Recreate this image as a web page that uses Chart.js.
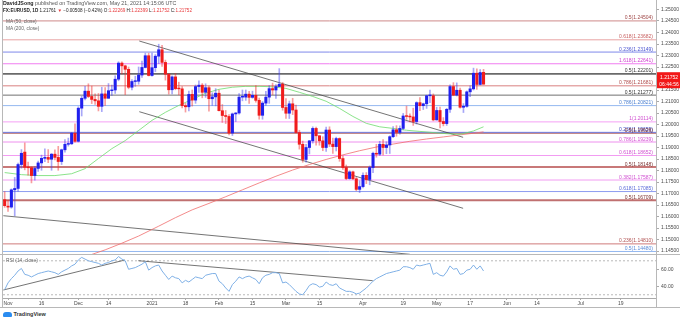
<!DOCTYPE html>
<html>
<head>
<meta charset="utf-8">
<script src="https://cdn.jsdelivr.net/npm/chart.js@4.4.0/dist/chart.umd.min.js"></script>
<style>
  body { margin:0; width:680px; height:322px; background:#fff; position:relative; overflow:hidden;
         font-family:"Liberation Sans", Arial, sans-serif; }
  canvas { position:absolute; left:0; }
  .txt { position:absolute; white-space:nowrap; z-index:5; line-height:1; }
  .r { color:#e8393b; }
  .ln { position:absolute; background:#b8b8b8; z-index:4; }
</style>
</head>
<body>
<canvas id="price" width="680" height="254" style="top:0"></canvas>
<canvas id="rsi" width="680" height="53" style="top:254px"></canvas>

<div class="txt" style="left:3px;top:1px;font-size:5.3px;color:#555"><b style="color:#222">DavidJSong</b> published on TradingView.com, May 21, 2021 14:15:06 UTC</div>
<div class="txt" style="left:3px;top:9px;font-size:4.6px;color:#222"><b>FX:EURUSD, 1D</b> 1.21761 <span class="r">▼</span> −0.00508 (−0.42%) O:<span class="r">1.22269</span> H:<span class="r">1.22399</span> L:<span class="r">1.21752</span> C:<span class="r">1.21752</span></div>
<div class="txt" style="left:6px;top:20px;font-size:4.8px;color:#666">MA (50, close)</div>
<div class="txt" style="left:6px;top:27px;font-size:4.8px;color:#666">MA (200, close)</div>
<div class="txt" style="left:6px;top:259px;font-size:4.8px;color:#666">RSI (14, close)</div>

<div class="ln" style="left:0;top:254px;width:680px;height:1px"></div>
<div class="ln" style="left:0;top:307px;width:680px;height:1px"></div>
<div class="ln" style="left:656px;top:0;width:1px;height:308px"></div>
<div class="ln" style="left:2px;top:0;width:1px;height:308px"></div>

<div class="txt" style="left:3px;top:312px;font-size:5.5px;color:#333">
  <span style="display:inline-block;width:9px;height:5px;background:#2a8cf0;border-radius:3px 3px 1px 1px;vertical-align:-1px"></span>
  <b>TradingView</b></div>

<script>
// daily candles, Oct 30 2020 -> May 21 2021
const opens = [1.1673,1.1645,1.1641,1.1716,1.1722,1.1826,1.1880,1.1814,1.1812,1.1778,
  1.1809,1.1833,1.1853,1.1857,1.1849,1.1871,1.1857,1.1839,1.1890,1.1914,
  1.1916,1.1962,1.1927,1.2071,1.2114,1.2145,1.2122,1.2109,1.2103,1.2079,
  1.2133,1.2114,1.2147,1.2150,1.2197,1.2267,1.2255,1.2240,1.2162,1.2187,
  1.2188,1.2215,1.2248,1.2299,1.2213,1.2247,1.2297,1.2325,1.2270,1.2219,
  1.2151,1.2207,1.2156,1.2155,1.2082,1.2077,1.2131,1.2106,1.2165,1.2171,
  1.2140,1.2160,1.2112,1.2120,1.2136,1.2060,1.2039,1.2035,1.1963,1.2046,
  1.2050,1.2119,1.2119,1.2132,1.2118,1.2127,1.2105,1.2040,1.2093,1.2119,
  1.2156,1.2150,1.2165,1.2175,1.2074,1.2049,1.2090,1.2063,1.1965,1.1914,
  1.1848,1.1900,1.1929,1.1983,1.1951,1.1929,1.1900,1.1976,1.1915,1.1904,
  1.1939,1.1852,1.1813,1.1765,1.1794,1.1764,1.1718,1.1730,1.1779,1.1761,
  1.1813,1.1875,1.1871,1.1914,1.1900,1.1911,1.1947,1.1977,1.1966,1.1983,
  1.2037,1.2035,1.2033,1.2013,1.2095,1.2082,1.2090,1.2125,1.2125,1.2020,
  1.2061,1.2013,1.2004,1.2066,1.2165,1.2128,1.2149,1.2075,1.2079,1.2142,
  1.2155,1.2223,1.2174,1.22269];
const highs = [1.1708,1.1670,1.1720,1.1770,1.1832,1.1891,1.1920,1.1837,1.1816,1.1817,
  1.1841,1.1867,1.1894,1.1891,1.1874,1.1890,1.1905,1.1893,1.1935,1.1941,
  1.1966,1.2003,1.2077,1.2123,1.2166,1.2177,1.2167,1.2133,1.2135,1.2162,
  1.2160,1.2178,1.2171,1.2212,1.2273,1.2272,1.2258,1.2250,1.2195,1.2210,
  1.2250,1.2276,1.2310,1.2310,1.2310,1.2304,1.2349,1.2344,1.2280,1.2220,
  1.2212,1.2222,1.2184,1.2165,1.2092,1.2145,1.2150,1.2172,1.2190,1.2178,
  1.2177,1.2167,1.2138,1.2156,1.2150,1.2087,1.2061,1.2043,1.2050,1.2052,
  1.2134,1.2150,1.2150,1.2144,1.2145,1.2169,1.2115,1.2100,1.2144,1.2169,
  1.2180,1.2174,1.2243,1.2183,1.2113,1.2102,1.2114,1.2084,1.1975,1.1928,
  1.1914,1.1931,1.1990,1.1989,1.1952,1.1947,1.1989,1.1990,1.1941,1.1945,
  1.1942,1.1864,1.1824,1.1799,1.1798,1.1770,1.1755,1.1790,1.1791,1.1820,
  1.1880,1.1914,1.1927,1.1934,1.1925,1.1951,1.1991,1.1995,1.1994,1.2048,
  1.2080,1.2046,1.2071,1.2099,1.2117,1.2093,1.2128,1.2150,1.2133,1.2075,
  1.2076,1.2030,1.2070,1.2173,1.2182,1.2181,1.2158,1.2091,1.2146,1.2168,
  1.2245,1.2242,1.2239,1.22399];
const lows = [1.1640,1.1622,1.1636,1.1603,1.1710,1.1810,1.1803,1.1780,1.1746,1.1758,
  1.1796,1.1801,1.1838,1.1834,1.1801,1.1846,1.1801,1.1826,1.1880,1.1906,
  1.1913,1.1923,1.1924,1.2037,1.2107,1.2117,1.2091,1.2087,1.2059,1.2056,
  1.2083,1.2114,1.2126,1.2135,1.2190,1.2220,1.2130,1.2155,1.2150,1.2166,
  1.2175,1.2205,1.2246,1.2211,1.2210,1.2230,1.2265,1.2253,1.2193,1.2132,
  1.2133,1.2151,1.2129,1.2072,1.2054,1.2059,1.2080,1.2092,1.2140,1.2116,
  1.2118,1.2058,1.2083,1.2081,1.2059,1.2009,1.2004,1.1955,1.1952,1.2013,
  1.2045,1.2103,1.2105,1.2092,1.2114,1.2097,1.2023,1.2023,1.2083,1.2092,
  1.2130,1.2113,1.2165,1.2062,1.2026,1.2026,1.2043,1.1963,1.1893,1.1836,
  1.1836,1.1872,1.1919,1.1910,1.1910,1.1886,1.1883,1.1904,1.1874,1.1885,
  1.1840,1.1805,1.1760,1.1762,1.1760,1.1712,1.1704,1.1724,1.1743,1.1738,
  1.1791,1.1858,1.1865,1.1868,1.1873,1.1874,1.1943,1.1949,1.1958,1.1977,
  1.2022,1.2011,1.1996,1.2002,1.2060,1.2065,1.2070,1.2095,1.2016,1.2019,
  1.1985,1.1994,1.1996,1.2052,1.2125,1.2124,1.2071,1.2052,1.2075,1.2121,
  1.2150,1.2152,1.2172,1.21752];
const closes = [1.1647,1.1641,1.1716,1.1722,1.1826,1.1875,1.1814,1.1812,1.1778,1.1809,
  1.1833,1.1853,1.1857,1.1849,1.1871,1.1857,1.1839,1.1890,1.1914,1.1916,
  1.1962,1.1927,1.2071,1.2114,1.2145,1.2122,1.2109,1.2103,1.2079,1.2133,
  1.2114,1.2147,1.2150,1.2197,1.2267,1.2255,1.2240,1.2162,1.2187,1.2188,
  1.2215,1.2248,1.2299,1.2213,1.2247,1.2297,1.2325,1.2270,1.2219,1.2151,
  1.2207,1.2156,1.2155,1.2082,1.2077,1.2131,1.2106,1.2165,1.2171,1.2140,
  1.2160,1.2112,1.2120,1.2136,1.2060,1.2039,1.2035,1.1963,1.2046,1.2050,
  1.2119,1.2119,1.2132,1.2118,1.2127,1.2105,1.2040,1.2093,1.2119,1.2156,
  1.2150,1.2165,1.2175,1.2074,1.2049,1.2090,1.2063,1.1965,1.1914,1.1848,
  1.1900,1.1929,1.1983,1.1951,1.1929,1.1900,1.1976,1.1915,1.1904,1.1939,
  1.1852,1.1813,1.1765,1.1794,1.1764,1.1718,1.1730,1.1779,1.1761,1.1813,
  1.1875,1.1871,1.1914,1.1900,1.1911,1.1947,1.1977,1.1966,1.1983,1.2037,
  1.2035,1.2033,1.2013,1.2095,1.2082,1.2090,1.2125,1.2125,1.2020,1.2061,
  1.2013,1.2004,1.2066,1.2165,1.2128,1.2149,1.2075,1.2079,1.2142,1.2155,
  1.2223,1.2174,1.2226,1.21752];

// RSI(14) per bar
const rsi = [36,44,49,53,58,61,54,53,51,53,
  55,56,57,58,57,56,54,57,59,61,
  64,66,71,74,72,70,69,68,67,65,
  67,68,70,71,75,72,70,60,61,62,
  64,66,69,59,62,64,65,58,53,48,
  52,50,49,44,47,45,48,51,50,49,
  53,54,55,55,46,43,38,34,42,46,
  51,49,51,52,50,48,43,50,53,54,
  56,56,55,44,45,42,38,34,31,30,
  35,41,43,42,39,40,45,42,41,43,
  38,36,34,34,33,31,32,35,38,42,
  46,49,51,53,55,56,57,58,59,63,
  63,62,60,65,64,65,66,67,54,56,
  53,52,57,64,60,61,54,55,59,60,
  65,60,64,58];

// moving averages, [bar, value]
const ma50 = [[0,1.1791],[5,1.1782],[10,1.1778],[15,1.1778],[20,1.1786],[24,1.1808],[28,1.1852],
  [32,1.1895],[36,1.1930],[40,1.1974],[44,1.2018],[48,1.2053],[52,1.2083],[56,1.2109],[60,1.2136],
  [64,1.2153],[68,1.2162],[72,1.2166],[76,1.2166],[80,1.2164],[84,1.2157],[88,1.2140],[92,1.2122],
  [96,1.2101],[100,1.2070],[104,1.2035],[108,1.2005],[112,1.1990],[116,1.1983],[120,1.1975],
  [124,1.1970],[128,1.1965],[132,1.1960],[136,1.1957],[140,1.1972],[143,1.1990]];
const ma200 = [[26,1.1435],[30,1.1455],[35,1.1484],[40,1.1515],[46,1.1558],[51,1.1595],[56,1.1629],
  [61,1.1657],[66,1.1686],[71,1.1716],[76,1.1746],[81,1.1775],[86,1.1802],[91,1.1826],[96,1.1848],
  [101,1.1868],[106,1.1886],[111,1.1902],[116,1.1915],[121,1.1927],[126,1.1937],[131,1.1946],
  [136,1.1955],[140,1.1962],[143,1.1968]];

// fibonacci levels
const fibRatios = ['0.5','0.618','0.236','1.618','0.5','0.786','0.5','0.786','1','0.236','0.5',
  '0.786','0.618','0.5','0.382','0.618','0.5','0.236','0.5'];
const fibPrices = [1.24504,1.23682,1.23149,1.22641,1.22201,1.21681,1.21277,1.20821,1.20114,1.19659,1.19626,
  1.19239,1.18652,1.18148,1.17587,1.17085,1.16709,1.14810,1.14480];
const fibLine = ['#cf8a8a','#e8a2a2','#7e88ea','#f07cf0','#6a6a6a','#d98080','#707070','#94b8f0','#f5a0f5','#6e7ce2','#c48a8a',
  '#ee90ee','#f29cf2','#c87878','#f29cf2','#8e9cf0','#c07070','#cf7a7a','#94b8f0'];
const fibText = ['#a04848','#c86060','#4a55d0','#d040d0','#333333','#b04848','#333333','#4a7fd0','#d050d0','#3a48c0','#7a3030',
  '#d050d0','#d050d0','#7a2f2f','#d050d0','#5a6ad8','#7a2f2f','#b05050','#5a8ad8'];
const fibWidth = [1,1,1,1,1.6,1,1,1,1,1,1.6,1,1,2,1,1,2,1,1];

// drawn trendlines [[bar, value], [bar, value]]
const priceTrends = [[[40.2,1.23630],[136.9,1.19443]], [[40.2,1.20557],[136.9,1.16357]], [[-0.4,1.16035],[121.0,1.14357]]];
const rsiTrends = [[[-0.4,35.6],[35.9,70.9]], [[39.9,70.1],[109.9,46.6]]];
const rsiBands = [70, 30];
const rsiTicks = [40, 60];

const xTickDates = ['2020-11-02','2020-11-16','2020-12-01','2020-12-14','2021-01-04','2021-01-18','2021-02-01','2021-02-15',
  '2021-03-01','2021-03-15','2021-04-01','2021-04-19','2021-05-03','2021-05-17','2021-06-01','2021-06-14','2021-07-01','2021-07-19'];
const xTickLabels = ['Nov','16','Dec','14','2021','18','Feb','15','Mar','15','Apr','19','May','17','Jun','14','Jul','19'];
const lastPrice = 1.21752;
const countdown = '06:44:56';

// trading days on the time axis (weekends and Dec 25 / Jan 1 have no bar)
const holidays = ['2020-12-25','2021-01-01'];
const dates = [];
for (let d = new Date(Date.UTC(2020, 9, 30)); dates.length < 195; d.setUTCDate(d.getUTCDate() + 1)) {
  const s = d.toISOString().slice(0, 10);
  if (d.getUTCDay() % 6 !== 0 && !holidays.includes(s)) dates.push(s);
}
const xTickIdx = xTickDates.map(s => dates.indexOf(s));

const FONT = '"Liberation Sans", Arial, sans-serif';
const BLUE = '#2020ee', RED = '#f01c1c';
const idx = closes.map((_, i) => i);
const up = idx.map(i => closes[i] >= opens[i]);
const pts = arr => arr.map(([x, y]) => ({ x, y }));
const flat = v => [{ x: -0.5, y: v }, { x: dates.length - 0.5, y: v }];

function xScale(show) {
  return {
    type: 'linear', min: -0.5, max: dates.length - 0.5, offset: false, display: show,
    afterBuildTicks: s => { s.ticks = xTickIdx.map(v => ({ value: v })); },
    afterFit: s => { if (show) s.height = 9; s.paddingLeft = 0; s.paddingRight = 0; },
    ticks: { autoSkip: false, maxRotation: 0, padding: 1, color: '#4a4a4a', font: { size: 5, family: FONT },
             callback: (v, i) => xTickLabels[i] },
    grid: { drawOnChartArea: false, tickLength: 2, color: '#aaa' },
    border: { color: '#aaa' }
  };
}
function yFit(s) { s.width = 24; s.paddingTop = 0; s.paddingBottom = 0; }

const labelsPlugin = {
  id: 'fibLabels',
  afterDatasetsDraw(chart) {
    const { ctx, chartArea, scales: { y } } = chart;
    ctx.save();
    ctx.font = '5px ' + FONT;
    ctx.textAlign = 'right';
    fibPrices.forEach((p, i) => {
      ctx.fillStyle = fibText[i];
      ctx.fillText(fibRatios[i] + '(' + p.toFixed(5) + ')', chartArea.right - 3, y.getPixelForValue(p) - 1.5);
    });
    ctx.restore();
  },
  afterDraw(chart) {
    const { ctx, chartArea, scales: { y } } = chart;
    const py = y.getPixelForValue(lastPrice);
    ctx.save();
    ctx.fillStyle = '#f21818';
    ctx.fillRect(chartArea.right + 1, py - 12, 24, 16);
    ctx.fillStyle = '#fff';
    ctx.font = '5px ' + FONT;
    ctx.textAlign = 'center';
    ctx.fillText(lastPrice.toFixed(5), chartArea.right + 13, py - 5.5);
    ctx.fillText(countdown, chartArea.right + 13, py + 1.5);
    ctx.restore();
  }
};

const priceSets = [
  { type: 'bar', data: idx.map(i => ({ x: i, y: [opens[i], closes[i]] })), backgroundColor: up.map(u => u ? BLUE : RED),
    barThickness: 2.4, grouped: false, minBarLength: 0.8, order: 1 },
  { type: 'bar', data: idx.map(i => ({ x: i, y: [lows[i], highs[i]] })),
    backgroundColor: up.map(u => u ? 'rgba(60,60,240,0.45)' : 'rgba(240,40,40,0.45)'),
    barThickness: 1, grouped: false, order: 2 },
  { type: 'line', data: pts(ma50), borderColor: 'rgba(110,220,110,0.8)', borderWidth: 1, pointRadius: 0, order: 3 },
  { type: 'line', data: pts(ma200), borderColor: 'rgba(240,110,110,0.8)', borderWidth: 1, pointRadius: 0, order: 3 }
];
priceTrends.forEach(t => priceSets.push({ type: 'line', data: pts(t), borderColor: 'rgba(70,70,70,0.75)', borderWidth: 1, pointRadius: 0, order: 4 }));
fibPrices.forEach((p, i) => priceSets.push({ type: 'line', data: flat(p), borderColor: fibLine[i], borderWidth: fibWidth[i], pointRadius: 0, order: 10 }));

new Chart(document.getElementById('price'), {
  type: 'bar',
  data: { datasets: priceSets },
  options: {
    responsive: false, animation: false, devicePixelRatio: 1,
    layout: { padding: { left: 3, top: 0, right: 0, bottom: 0 }, autoPadding: false },
    plugins: { legend: { display: false }, tooltip: { enabled: false } },
    scales: {
      x: xScale(false),
      y: {
        position: 'right', min: 1.1437, max: 1.25413, afterFit: yFit,
        ticks: { stepSize: 0.005, includeBounds: false, padding: 2, color: '#4a4a4a', font: { size: 5, family: FONT },
                 callback: v => v.toFixed(5) },
        grid: { drawOnChartArea: false, tickLength: 3, color: '#aaa' },
        border: { color: '#aaa' }
      }
    }
  },
  plugins: [labelsPlugin]
});

const rsiSets = [
  { data: idx.map(i => ({ x: i, y: rsi[i] })), borderColor: '#7fb0e6', borderWidth: 1, pointRadius: 0, order: 1 }
];
rsiTrends.forEach(t => rsiSets.push({ data: pts(t), borderColor: 'rgba(70,70,70,0.75)', borderWidth: 1, pointRadius: 0, order: 2 }));
rsiBands.forEach(v => rsiSets.push({ data: flat(v), borderColor: '#b8b8b8', borderWidth: 1, borderDash: [2, 2], pointRadius: 0, order: 3 }));

new Chart(document.getElementById('rsi'), {
  type: 'line',
  data: { datasets: rsiSets },
  options: {
    responsive: false, animation: false, devicePixelRatio: 1,
    layout: { padding: { left: 3, top: 0, right: 0, bottom: 0 }, autoPadding: false },
    plugins: { legend: { display: false }, tooltip: { enabled: false } },
    scales: {
      x: xScale(true),
      y: {
        position: 'right', min: 26.2, max: 78, afterFit: yFit,
        afterBuildTicks: s => { s.ticks = rsiTicks.map(v => ({ value: v })); },
        ticks: { padding: 2, color: '#4a4a4a', font: { size: 5, family: FONT }, callback: v => v.toFixed(2) },
        grid: { drawOnChartArea: false, tickLength: 3, color: '#aaa' },
        border: { color: '#aaa' }
      }
    }
  }
});
</script>
</body>
</html>
